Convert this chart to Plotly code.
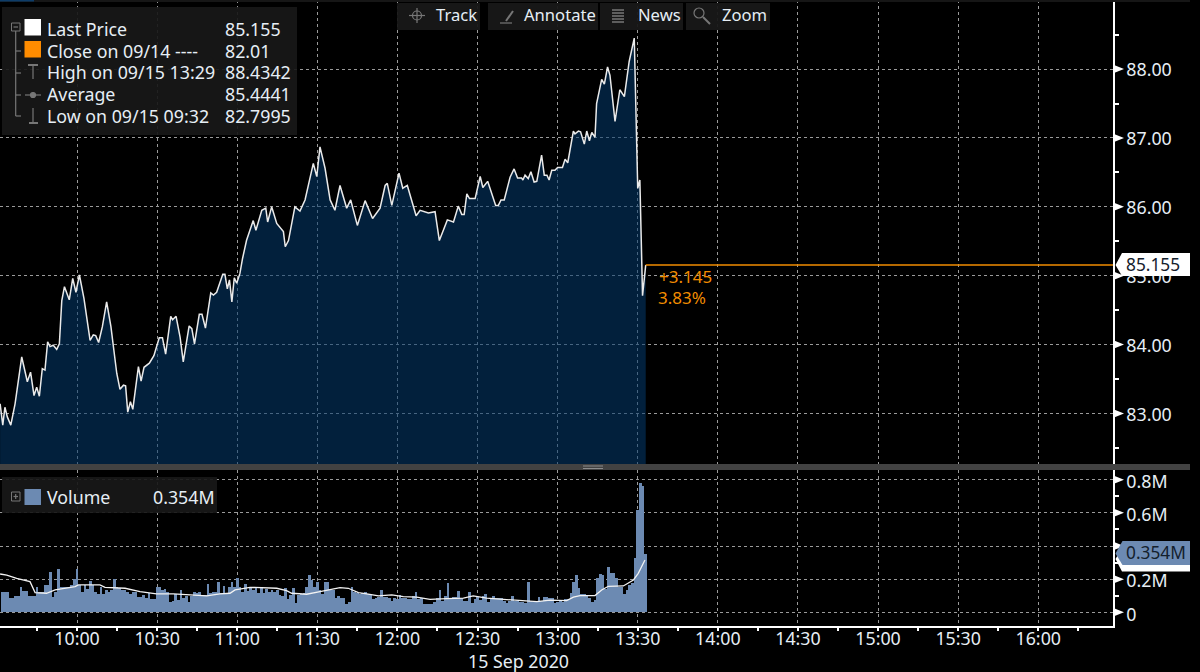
import plotly.graph_objects as go

# --- data: minutes after 09:30 and values ---
price_min = [1.2,2.2,3,3.9,5.2,6.8,9.3,11.4,12.6,13.9,14.9,15.9,17,18,19,19.9,21.1,22.4,23.4,24.3,25.3,27.1,28.4,29.6,30.9,32.6,34.9,36.1,37,38.1,39.5,41.1,42.7,44.9,46.1,47.4,48.2,49,50,50.9,53,54,55.1,57.1,58.8,60.8,62,63.2,65.1,65.8,67.1,68.6,69.8,72,73,74,75.8,76.8,78.1,80.1,81.1,82.3,84.6,85.4,86.3,87.1,88,88.9,89.8,91,92,93.5,
96,97,99.2,100.7,101.4,102.9,104.8,107.3,108,109.2,111.6,113.5,115.4,118.5,119.8,121,122.9,124.8,126.6,128.5,131,132.5,135,137.9,140.7,143.5,145.4,146.2,147.9,150.6,152,153.7,157,158.5,161.6,164.1,165.7,168.7,171,172.8,174.1,175,176,177,179.1,181,182,183.8,186.8,187.8,188.8,190,192.2,193.7,195,196.5,197,197.8,199,200,201.2,202.2,204,205,206,206.8,207.8,209,210,211.8,212.8,213.8,215.9,216.5,217.8,218.6,220,220.9,221.9,222.8,224,224.6,226.5,227.5,228.7,229.6,231.5,233.3,235,236.8,238.7,239.6,240,240.8,241.8,243]
price_val = [83.14,82.83,83.09,82.95,82.83,83.14,83.82,83.46,83.60,83.26,83.38,83.25,83.65,83.63,84.04,83.97,83.99,83.93,84.01,84.64,84.84,84.65,84.96,84.76,85.01,84.67,84.06,84.14,84.13,84.03,84.26,84.62,84.26,83.58,83.35,83.41,83.40,83.02,83.17,83.06,83.68,83.47,83.67,83.73,83.84,84.10,84.10,83.86,84.41,84.36,84.41,84.11,83.75,84.27,84.23,84.01,84.44,84.44,84.24,84.75,84.72,84.76,85.02,85.02,84.81,84.94,84.62,84.97,84.89,85.03,85.25,85.515,
85.80,85.66,85.95,85.98,85.78,86.00,85.76,85.64,85.42,85.51,86.00,85.94,86.10,86.63,86.44,86.87,86.56,86.10,85.95,86.31,85.98,86.10,85.73,86.09,85.83,85.98,86.31,86.34,86.02,86.49,86.27,86.31,85.87,85.95,85.91,85.93,85.51,85.81,85.78,86.01,85.89,85.89,86.19,86.12,86.12,86.44,86.28,86.37,86.02,86.02,86.10,86.10,86.43,86.55,86.42,86.42,86.39,86.46,86.41,86.51,86.36,86.37,86.75,86.46,86.46,86.39,86.53,86.53,86.57,86.57,86.69,86.64,87.10,87.06,87.10,87.09,86.91,87.10,86.96,87.08,87.01,87.50,87.85,87.78,88.03,87.91,87.24,87.70,87.60,88.11,88.45,87.02,86.27,86.39,84.71,85.155]

vol_first_min = 2
vol_val = [.125,.125,.125,.085,.085,.10,.10,.15,.13,.13,.10,.10,.10,.15,.12,.12,.165,.165,.245,.09,.125,.26,.15,.15,.15,.15,.165,.2,.26,
.165,.12,.165,.14,.19,.165,.125,.11,.155,.11,.135,.125,.135,.2,.155,.145,.135,.135,.125,.11,.125,.125,.095,.095,.105,.085,.115,.08,.08,.155,
.155,.135,.14,.12,.06,.07,.11,.075,.135,.085,.1,.065,.1,.125,.115,.125,.105,.105,.17,.115,.125,.125,.185,.115,.16,.11,.15,.185,.155,.21,
.155,.12,.17,.13,.155,.135,.15,.115,.15,.115,.14,.12,.135,.125,.135,.105,.1,.145,.08,.105,.145,.055,.105,.11,.115,.155,.225,.195,.155,.185,
.135,.11,.185,.185,.135,.135,.085,.1,.085,.085,.05,.065,.155,.125,.115,.11,.115,.125,.11,.105,.08,.085,.095,.135,.095,.095,.085,.07,.085,.08,
.105,.085,.085,.08,.08,.1,.125,.08,.085,.05,.05,.05,.05,.065,.085,.135,.07,.1,.175,.085,.095,.09,.13,.085,.07,.07,.125,.055,.08,.095,
.075,.1,.11,.065,.08,.1,.085,.085,.085,.07,.055,.07,.1,.07,.07,.065,.06,.055,.185,.07,.06,.06,.095,.07,.095,.09,.085,.085,.055,.065,
.075,.065,.08,.08,.115,.185,.225,.145,.11,.11,.1,.085,.065,.075,.205,.23,.225,.14,.275,.235,.235,.21,.155,.155,.11,.135,.165,.175,.325,.62,
.78,.76,.354]
vol_min = [vol_first_min + i for i in range(len(vol_val))]

avg_min = [1.2,3.7,7.4,12.4,14.3,18.6,21.8,26.1,29.3,30.5,38.6,40.5,44.9,48,53.6,59.8,66.1,71,78.6,83.5,87.3,89.2,92.9,94.8,104.8,108.5,110.4,116,121,124.8,128.5,131.6,135.4,138.5,142.9,147.9,152.2,157.2,162.2,168.5,174.7,178.4,183.4,189.7,197.2,202.2,207.2,213.4,215.9,218.4,224,226.5,229,234.6,238.4,240.2,242.7]
avg_val = [.231,.225,.205,.185,.119,.115,.135,.145,.155,.165,.165,.151,.145,.145,.125,.111,.111,.105,.099,.111,.115,.135,.145,.151,.145,.131,.115,.109,.125,.135,.149,.145,.119,.111,.099,.105,.095,.091,.078,.082,.085,.099,.085,.078,.07,.064,.074,.07,.091,.101,.101,.135,.157,.159,.195,.235,.316]

last_price = 85.155
x_tick_vals = [0,30,60,90,120,150,180,210,240,270,300,330,360,390]
x_tick_text = ["","10:00","10:30","11:00","11:30","12:00","12:30","13:00","13:30","14:00","14:30","15:00","15:30","16:00"]
x_minor_vals = [15,45,75,105,135,165,195,225,255,285,315,345,375,405]
p_tick_vals = [83,84,85,86,87,88]
p_tick_text = ["83.00","84.00","85.00","86.00","87.00","88.00"]
p_minor_vals = [82.5,83.5,84.5,85.5,86.5,87.5,88.5,89]
v_tick_vals = [0,.2,.4,.6,.8]
v_tick_text = ["0","0.2M","0.4M","0.6M","0.8M"]
v_minor_vals = [.1,.3,.5,.7]
legend_rows = ["Last Price","Close on 09/14 ----","High on 09/15 13:29","Average","Low on 09/15 09:32"]
legend_vals = ["85.155","82.01","88.4342","85.4441","82.7995"]

# --- style ---
W, H = 1200, 672
FONT = "Noto Sans"
TXT = "#e6eef5"
TS = 17.8
X_RANGE = [1.16, 418]
PX = lambda x: x / W
PY = lambda y: 1 - y / H
GRID = "#9a9a9a"
DASH = "3px,3px"
TEXT_DY = -0.8

fig = go.Figure()
fig.add_trace(go.Scatter(x=price_min, y=price_val, mode="lines", fill="tozeroy",
                         fillcolor="rgba(4,58,109,0.55)",
                         line=dict(color="#eaeaea", width=1.5), xaxis="x", yaxis="y", hoverinfo="skip"))
fig.add_trace(go.Scatter(x=[price_min[-1], X_RANGE[1]], y=[last_price, last_price], mode="lines",
                         line=dict(color="#f28c00", width=1.5), xaxis="x", yaxis="y", hoverinfo="skip"))
fig.add_trace(go.Bar(x=vol_min, y=vol_val, marker=dict(color="#6c8ab2", line=dict(width=0)),
                     width=1.0, xaxis="x2", yaxis="y2", hoverinfo="skip"))
fig.add_trace(go.Scatter(x=avg_min, y=avg_val, mode="lines", line=dict(color="#f2f2f2", width=1.3),
                         xaxis="x2", yaxis="y2", hoverinfo="skip"))

shapes = []
ann = []

def rect(x0, y0, x1, y1, color, line=None):
    shapes.append(dict(type="rect", xref="paper", yref="paper", x0=PX(x0), x1=PX(x1), y0=PY(y0), y1=PY(y1),
                       fillcolor=color, line=dict(width=1, color=line) if line else dict(width=0), layer="above"))

def seg(x0, y0, x1, y1, color="#777777", w=1.2):
    shapes.append(dict(type="line", xref="paper", yref="paper", x0=PX(x0), x1=PX(x1), y0=PY(y0), y1=PY(y1),
                       line=dict(color=color, width=w), layer="above"))

def circ(cx, cy, r, color="#777777", w=1.2, fill="rgba(0,0,0,0)"):
    shapes.append(dict(type="circle", xref="paper", yref="paper", x0=PX(cx-r), x1=PX(cx+r), y0=PY(cy-r), y1=PY(cy+r),
                       line=dict(color=color, width=w), fillcolor=fill, layer="above"))

def poly(pts, color):
    path = "M" + " L".join(f"{PX(x):.5f},{PY(y):.5f}" for x, y in pts) + " Z"
    shapes.append(dict(type="path", xref="paper", yref="paper", path=path, fillcolor=color, line=dict(width=0), layer="above"))

def text(x, y, s, color=TXT, size=TS, anchor="left"):
    ann.append(dict(xref="paper", yref="paper", x=PX(x), y=PY(y + TEXT_DY), text=s, showarrow=False, xanchor=anchor, yanchor="middle",
                    font=dict(family=FONT, size=size, color=color), borderpad=0, align="left"))

# top strip
rect(0, 0, 1190, 2, "#161616")
rect(0, 0, 34, 1.5, "#0d3c68")

# tick triangles on the value axes
for yref, xdom, vals in (("y", "x domain", p_tick_vals), ("y2", "x2 domain", v_tick_vals)):
    for v in vals:
        shapes.append(dict(type="path", xref=xdom, yref=yref, xsizemode="pixel", ysizemode="pixel",
                           xanchor=1, yanchor=v, path="M1,-4 L11,0 L1,4 Z", fillcolor="#ffffff",
                           line=dict(width=0), layer="above"))

# panel divider
rect(0, 464, 1190, 470, "#424242")
seg(583, 466, 603, 466, "#a0a0a0", 0.8)
seg(583, 468.5, 603, 468.5, "#a0a0a0", 0.8)

# legend box (price)
rect(2, 7, 297, 135, "rgba(24,24,24,0.92)")
rect(24.5, 19, 41, 35.5, "#ffffff")
rect(24.5, 41, 41, 57.5, "#ff8c00")
for i, (a, b) in enumerate(zip(legend_rows, legend_vals)):
    ys = 29.5 + i * 21.8
    text(46, ys, a)
    text(224, ys, b)
rect(11.5, 23, 20, 31, "rgba(0,0,0,0)", "#777777")
seg(13.5, 27, 18, 27)
seg(15.7, 31, 15.7, 116)
for yy in (51, 73, 95, 116):
    seg(15.7, yy, 21, yy)
seg(33, 65, 33, 79); seg(28, 65, 38, 65, w=2)
seg(25, 95, 41, 95); circ(33, 95, 2.5, fill="#777777")
seg(33, 108, 33, 122); seg(29, 123, 38, 123, w=2)

# legend box (volume)
rect(2, 477, 217, 513, "rgba(24,24,24,0.92)")
rect(11.5, 492, 20, 501, "rgba(0,0,0,0)", "#777777")
seg(13.5, 496.5, 18, 496.5); seg(15.7, 494, 15.7, 499)
rect(24.5, 489, 41, 505, "#6c8ab2")
text(46, 498, "Volume")
text(152, 498, "0.354M")

# toolbar
for a, b in ((397, 480), (488, 598), (600, 683), (686, 770)):
    rect(a, 3, b, 30, "rgba(24,24,24,0.95)")
TB = 16.6
text(435, 15.5, "Track", size=TB); text(523, 15.5, "Annotate", size=TB); text(637, 15.5, "News", size=TB); text(721, 15.5, "Zoom", size=TB)
circ(417, 15.5, 4.5); seg(409, 15.5, 425, 15.5); seg(417, 8, 417, 23)
seg(506, 21, 513, 11, w=2); seg(500, 23, 512, 23)
for yy in (10, 13, 16, 19, 22):
    seg(612, yy, 624, yy, w=1.5)
circ(699, 13, 5); seg(703, 17, 710, 24, w=2)

# change labels
text(658, 277.5, "+3.145", "#f28c00", 17)
text(657, 298.5, "3.83%", "#f28c00", 17)

# last-value flags
poly([(1115.5, 265), (1122, 253), (1190, 253), (1190, 276), (1122, 276)], "#ffffff")
text(1125, 265, "85.155", "#14202c", 17.3)
poly([(1115.5, 559), (1122, 571.5), (1190, 571.5), (1190, 560), (1122, 548)], "#ffffff")
poly([(1115.5, 553.5), (1122.5, 541), (1190, 541), (1190, 565), (1122.5, 565)], "#6c8ab2")
text(1125, 553.5, "0.354M", "#14202c", 17.3)

text(518, 662, "15 Sep 2020", anchor="center")

axis_font = dict(family=FONT, size=TS, color=TXT)
common_grid = dict(showgrid=True, gridcolor=GRID, griddash=DASH, gridwidth=1, zeroline=False)

fig.update_layout(
    width=W, height=H, autosize=False,
    paper_bgcolor="#000000", plot_bgcolor="#000000",
    margin=dict(l=0, r=0, t=0, b=0), showlegend=False, bargap=0,
    shapes=shapes, annotations=ann,
    xaxis=dict(domain=[0, 1113 / W], range=X_RANGE, anchor="y", tickmode="array", tickvals=x_tick_vals,
               showticklabels=False, ticks="", showline=False, **common_grid),
    yaxis=dict(domain=[PY(464), 1], range=[82.266, 89.003], side="right", anchor="x", tickmode="array",
               tickvals=p_tick_vals, ticktext=p_tick_text, ticks="outside", ticklen=8, tickcolor="rgba(0,0,0,0)",
               tickfont=axis_font, showline=True, linecolor="#ffffff", linewidth=1.5, ticklabelshift=1,
               minor=dict(tickmode="array", tickvals=p_minor_vals, ticks="outside", ticklen=4, tickcolor="#ffffff", tickwidth=1.5, showgrid=False),
               **common_grid),
    xaxis2=dict(domain=[0, 1113 / W], range=X_RANGE, anchor="y2", tickmode="array", tickvals=x_tick_vals, ticktext=x_tick_text,
                ticks="outside", ticklen=4, tickcolor="#ffffff", tickwidth=1.5, tickfont=axis_font, ticklabelstandoff=-8,
                showline=True, linecolor="#ffffff", linewidth=1.5,
                minor=dict(tickmode="array", tickvals=x_minor_vals, ticks="outside", ticklen=4, tickcolor="#ffffff", tickwidth=1.5, showgrid=False),
                **common_grid),
    yaxis2=dict(domain=[PY(625.5), PY(470)], range=[-0.0796, 0.8585], side="right", anchor="x2", tickmode="array",
                tickvals=v_tick_vals, ticktext=v_tick_text, ticks="outside", ticklen=8, tickcolor="rgba(0,0,0,0)",
                tickfont=axis_font, showline=True, linecolor="#ffffff", linewidth=1.5, ticklabelshift=2,
                minor=dict(tickmode="array", tickvals=v_minor_vals, ticks="outside", ticklen=4, tickcolor="#ffffff", tickwidth=1.5, showgrid=False),
                **common_grid),
)

fig.write_html("out.html", config={"displayModeBar": False},
               post_script="document.body.style.margin='0';document.documentElement.style.overflow='hidden';")
